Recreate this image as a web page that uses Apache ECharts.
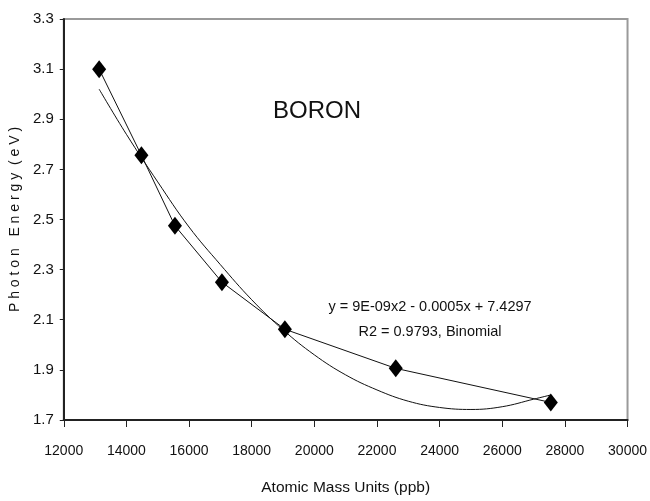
<!DOCTYPE html>
<html>
<head>
<meta charset="utf-8">
<script src="https://cdn.jsdelivr.net/npm/echarts@6/dist/echarts.min.js"></script>
<style>
  html, body { margin: 0; padding: 0; background: #fff; }
  #main { width: 650px; height: 501px; }
</style>
</head>
<body>
<div id="main"></div>
<script>
// measured points (atomic mass units, photon energy)
var massValues = [13130, 14480, 15550, 17050, 19060, 22600, 27550];
var energyValues = [3.10, 2.756, 2.475, 2.25, 2.062, 1.906, 1.77];

// trendline
var trendMass = [13130, 14000, 15000, 16000, 17000, 18000, 19000, 20000, 21000, 22000, 23000, 24000, 25000, 26000, 27000, 27550];
var trendEnergy = [3.02, 2.84, 2.65, 2.47, 2.32, 2.18, 2.06, 1.96, 1.88, 1.82, 1.775, 1.75, 1.742, 1.753, 1.783, 1.80];

var chartDom = document.getElementById('main');
var myChart = echarts.init(chartDom);
var option;

var pointData = massValues.map(function (x, i) { return [x, energyValues[i]]; });
var trendData = trendMass.map(function (x, i) { return [x, trendEnergy[i]]; });

var fontName = 'Liberation Sans, Arial, sans-serif';

option = {
    backgroundColor: '#fff',
    animation: false,
    grid: {
        left: 61,
        right: 20,
        top: 19,
        bottom: 79,
        show: true,
        borderColor: '#9a9a9a',
        borderWidth: 2
    },
    xAxis: {
        type: 'value',
        min: 12000,
        max: 30000,
        interval: 2000,
        name: 'Atomic Mass Units (ppb)',
        nameLocation: 'middle',
        nameGap: 60,
        nameTextStyle: { color: '#111', fontFamily: fontName, fontSize: 15.5 },
        axisLine: { lineStyle: { color: '#222', width: 2 } },
        axisTick: { show: true, length: 7, lineStyle: { color: '#222', width: 1 } },
        axisLabel: {
            margin: 24,
            color: '#111',
            fontFamily: fontName,
            fontSize: 14,
            formatter: function (v) { return String(v); }
        },
        splitLine: { show: false }
    },
    yAxis: {
        type: 'value',
        min: 1.7,
        max: 3.3,
        interval: 0.2,
        name: 'P h o t o n   E n e r g y  ( e V )',
        nameLocation: 'middle',
        nameGap: 41,
        nameTextStyle: { color: '#111', fontFamily: fontName, fontSize: 14 },
        axisLine: { show: true, lineStyle: { color: '#222', width: 2 } },
        axisTick: { show: true, length: 4, lineStyle: { color: '#222', width: 1 } },
        axisLabel: {
            margin: 10,
            color: '#111',
            fontFamily: fontName,
            fontSize: 15,
            formatter: function (v) { return v.toFixed(1); }
        },
        splitLine: { show: false }
    },
    graphic: [
        {
            type: 'text',
            x: 317,
            y: 111,
            style: {
                text: 'BORON',
                fill: '#111',
                align: 'center',
                verticalAlign: 'middle',
                font: '24px Liberation Sans, Arial, sans-serif'
            }
        },
        {
            type: 'text',
            x: 430,
            y: 307,
            style: {
                text: 'y = 9E-09x2 - 0.0005x + 7.4297',
                fill: '#111',
                align: 'center',
                verticalAlign: 'middle',
                font: '14.5px Liberation Sans, Arial, sans-serif'
            }
        },
        {
            type: 'text',
            x: 430,
            y: 332,
            style: {
                text: 'R2 = 0.9793, Binomial',
                fill: '#111',
                align: 'center',
                verticalAlign: 'middle',
                font: '14.5px Liberation Sans, Arial, sans-serif'
            }
        }
    ],
    series: [
        {
            name: 'trend',
            type: 'line',
            data: trendData,
            smooth: 0.4,
            showSymbol: false,
            lineStyle: { color: '#111', width: 1 },
            z: 2
        },
        {
            name: 'boron',
            type: 'line',
            data: pointData,
            symbol: 'diamond',
            symbolSize: [14, 18],
            itemStyle: { color: '#000' },
            lineStyle: { color: '#111', width: 1 },
            z: 3
        }
    ]
};

option && myChart.setOption(option);
</script>
</body>
</html>
